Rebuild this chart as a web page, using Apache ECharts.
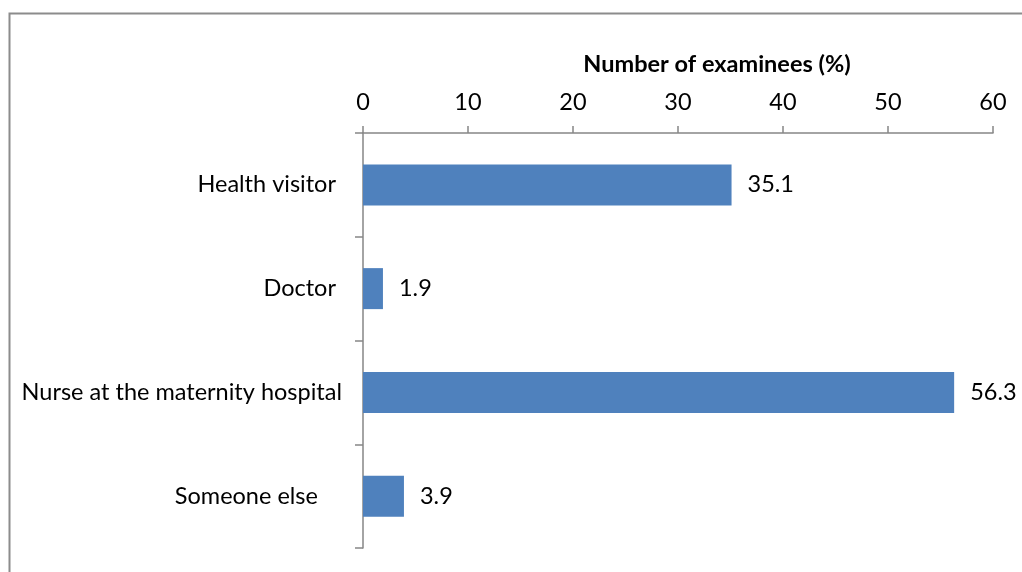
<!DOCTYPE html>
<html>
<head>
<meta charset="utf-8">
<script src="https://cdn.jsdelivr.net/npm/echarts@6/dist/echarts.min.js"></script>
<style>
  html, body { margin: 0; padding: 0; background: #fff; }
  #chart { width: 1022px; height: 572px; }
</style>
</head>
<body>
<div id="chart"></div>
<script>
var categories = ['Health visitor ', 'Doctor ', 'Nurse at the maternity hospital', 'Someone else    '];
var values = [35.1, 1.9, 56.3, 3.9];
var axisTitle = 'Number of examinees (%)';

var chart = echarts.init(document.getElementById('chart'));
var font = 'Lato, "Open Sans", sans-serif';

var option = {
    animation: false,
    backgroundColor: '#fff',
    graphic: [{
        type: 'rect',
        shape: { x: 9.5, y: 13.5, width: 1030, height: 600 },
        style: { fill: 'none', stroke: '#8c8c8c', lineWidth: 2 }
    }],
    grid: { left: 363, right: 29, top: 133, bottom: 24 },
    xAxis: {
        type: 'value',
        position: 'top',
        min: 0, max: 60, interval: 10,
        name: axisTitle,
        nameLocation: 'middle',
        nameGap: 57,
        nameTextStyle: {
            fontFamily: font, fontSize: 23.5, fontWeight: 'bold', color: '#000',
            padding: [0, 0, 0, 78]
        },
        splitLine: { show: false },
        axisLine: { show: true, lineStyle: { color: '#868686', width: 1.5 } },
        axisTick: { show: true, length: 7, lineStyle: { color: '#868686', width: 1.5 } },
        axisLabel: { fontFamily: font, fontSize: 23.5, color: '#000', margin: 19 }
    },
    yAxis: {
        type: 'category',
        inverse: true,
        data: categories,
        axisLine: { show: true, lineStyle: { color: '#868686', width: 1.5 } },
        axisTick: { show: true, length: 8, lineStyle: { color: '#868686', width: 1.5 } },
        axisLabel: { fontFamily: font, fontSize: 23.5, color: '#000', margin: 21 }
    },
    series: [{
        type: 'bar',
        data: values,
        barWidth: 41,
        itemStyle: { color: '#4f81bd' },
        label: {
            show: true, position: 'right', distance: 16,
            fontFamily: font, fontSize: 23.5, color: '#000'
        }
    }]
};
chart.setOption(option);
</script>
</body>
</html>
